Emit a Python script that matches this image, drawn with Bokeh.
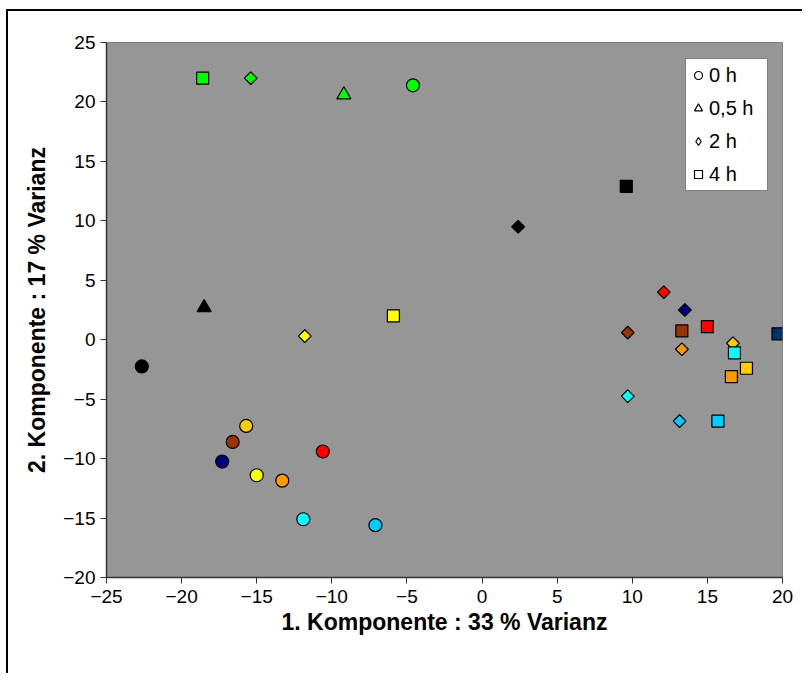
from bokeh.plotting import figure
from bokeh.models import ColumnDataSource, Legend, LegendItem, Range1d, FixedTicker
from bokeh.embed import file_html
from bokeh.resources import INLINE

# 0 h (circles)
x_0h = [-4.6, -22.65, -15.0, -10.6, -17.3, -16.6, -13.3, -15.7, -11.9, -7.1]
y_0h = [21.4, -2.25, -11.4, -9.4, -10.25, -8.6, -11.85, -7.25, -15.1, -15.6]
c_0h = ["#00FF00", "#000000", "#FFFF00", "#FF0000", "#000080", "#993300",
        "#FF9900", "#FFCC00", "#00FFFF", "#00CCFF"]

# 0,5 h (triangles)
x_05h = [-9.2, -18.5]
y_05h = [20.6, 2.7]
c_05h = ["#00FF00", "#000000"]

# 2 h (diamonds)
x_2h = [-15.4, 2.4, -11.8, 12.1, 13.5, 9.7, 13.3, 16.7, 9.7, 13.15]
y_2h = [22.0, 9.5, 0.3, 4.0, 2.5, 0.6, -0.8, -0.3, -4.75, -6.85]
c_2h = ["#00FF00", "#000000", "#FFFF00", "#FF0000", "#000080", "#993300",
        "#FF9900", "#FFCC00", "#00FFFF", "#00CCFF"]

# 4 h (squares)
x_4h = [-18.6, 9.6, -5.9, 15.0, 19.7, 13.3, 16.6, 17.6, 16.8, 15.7]
y_4h = [22.0, 12.9, 2.0, 1.1, 0.5, 0.75, -3.1, -2.4, -1.1, -6.85]
c_4h = ["#00FF00", "#000000", "#FFFF00", "#FF0000", "#003366", "#993300",
        "#FF9900", "#FFCC00", "#00FFFF", "#00CCFF"]

legend_labels = ["0 h", "0,5 h", "2 h", "4 h"]
x_ticks = [-25, -20, -15, -10, -5, 0, 5, 10, 15, 20]
y_ticks = [-20, -15, -10, -5, 0, 5, 10, 15, 20, 25]

p = figure(width=796, height=664, output_backend="svg", toolbar_location=None,
           x_range=Range1d(-25, 20), y_range=Range1d(-20, 25),
           min_border_left=98, min_border_right=22, min_border_top=31, min_border_bottom=98)
p.styles = {"border-left": "2px solid black", "border-top": "2px solid black",
            "margin-left": "6px", "margin-top": "9px"}
p.background_fill_color = "#969696"
p.border_fill_color = "white"
p.outline_line_color = "#808080"
p.outline_line_width = 1
p.xgrid.visible = False
p.ygrid.visible = False

for ax in (p.xaxis[0], p.yaxis[0]):
    ax.axis_line_color = "#333333"
    ax.axis_line_width = 1.5
    ax.major_tick_line_color = "#333333"
    ax.major_tick_in = 0
    ax.major_tick_out = 6
    ax.minor_tick_line_color = None
    ax.major_label_text_font = "Liberation Sans"
    ax.major_label_text_font_size = "19px"
    ax.major_label_text_color = "black"
    ax.axis_label_text_font = "Liberation Sans"
    ax.axis_label_text_font_size = "23px"
    ax.axis_label_text_font_style = "bold"
    ax.axis_label_text_color = "black"

p.xaxis.ticker = FixedTicker(ticks=x_ticks)
p.yaxis.ticker = FixedTicker(ticks=y_ticks)
p.xaxis.axis_label = "1. Komponente : 33 % Varianz"
p.yaxis.axis_label = "2. Komponente : 17 % Varianz"
p.xaxis.major_label_standoff = 6
p.xaxis.axis_label_standoff = 3
p.yaxis.major_label_standoff = 5
p.yaxis.axis_label_standoff = 10

s0 = ColumnDataSource(dict(x=x_0h, y=y_0h, c=c_0h))
s05 = ColumnDataSource(dict(x=x_05h, y=y_05h, c=c_05h))
s2 = ColumnDataSource(dict(x=x_2h, y=y_2h, c=c_2h))
s4 = ColumnDataSource(dict(x=x_4h, y=y_4h, c=c_4h))

p.scatter("x", "y", source=s0, marker="circle", size=13, fill_color="c", line_color="black", line_width=1.2)
p.scatter("x", "y", source=s05, marker="triangle", size=14, fill_color="c", line_color="black", line_width=1.2)
p.scatter("x", "y", source=s2, marker="square", angle=0.7854, size=9, fill_color="c", line_color="black", line_width=1.2)
p.scatter("x", "y", source=s4, marker="square", size=12, fill_color="c", line_color="black", line_width=1.2)

# Legend proxies (hollow markers, not plotted)
nan = float("nan")
markers = ["circle", "triangle", "diamond", "square"]
items = []
for lab, m in zip(legend_labels, markers):
    r = p.scatter("x", "y", source=ColumnDataSource(dict(x=[nan], y=[nan])), marker=m,
                  fill_color="white", line_color="black", line_width=1.2)
    items.append(LegendItem(label=lab, renderers=[r]))

legend = Legend(items=items, location=(579, 386))
legend.label_text_font = "Liberation Sans"
legend.label_text_font_size = "20px"
legend.label_text_color = "black"
legend.border_line_color = "black"
legend.border_line_width = 1
legend.background_fill_color = "white"
legend.background_fill_alpha = 1
legend.glyph_width = 20
legend.glyph_height = 20
legend.label_height = 28
legend.label_width = 56
legend.spacing = 5
legend.padding = 2
legend.margin = 0
legend.label_standoff = 1
p.add_layout(legend, "center")

open("out.html", "w").write(file_html(p, INLINE))
